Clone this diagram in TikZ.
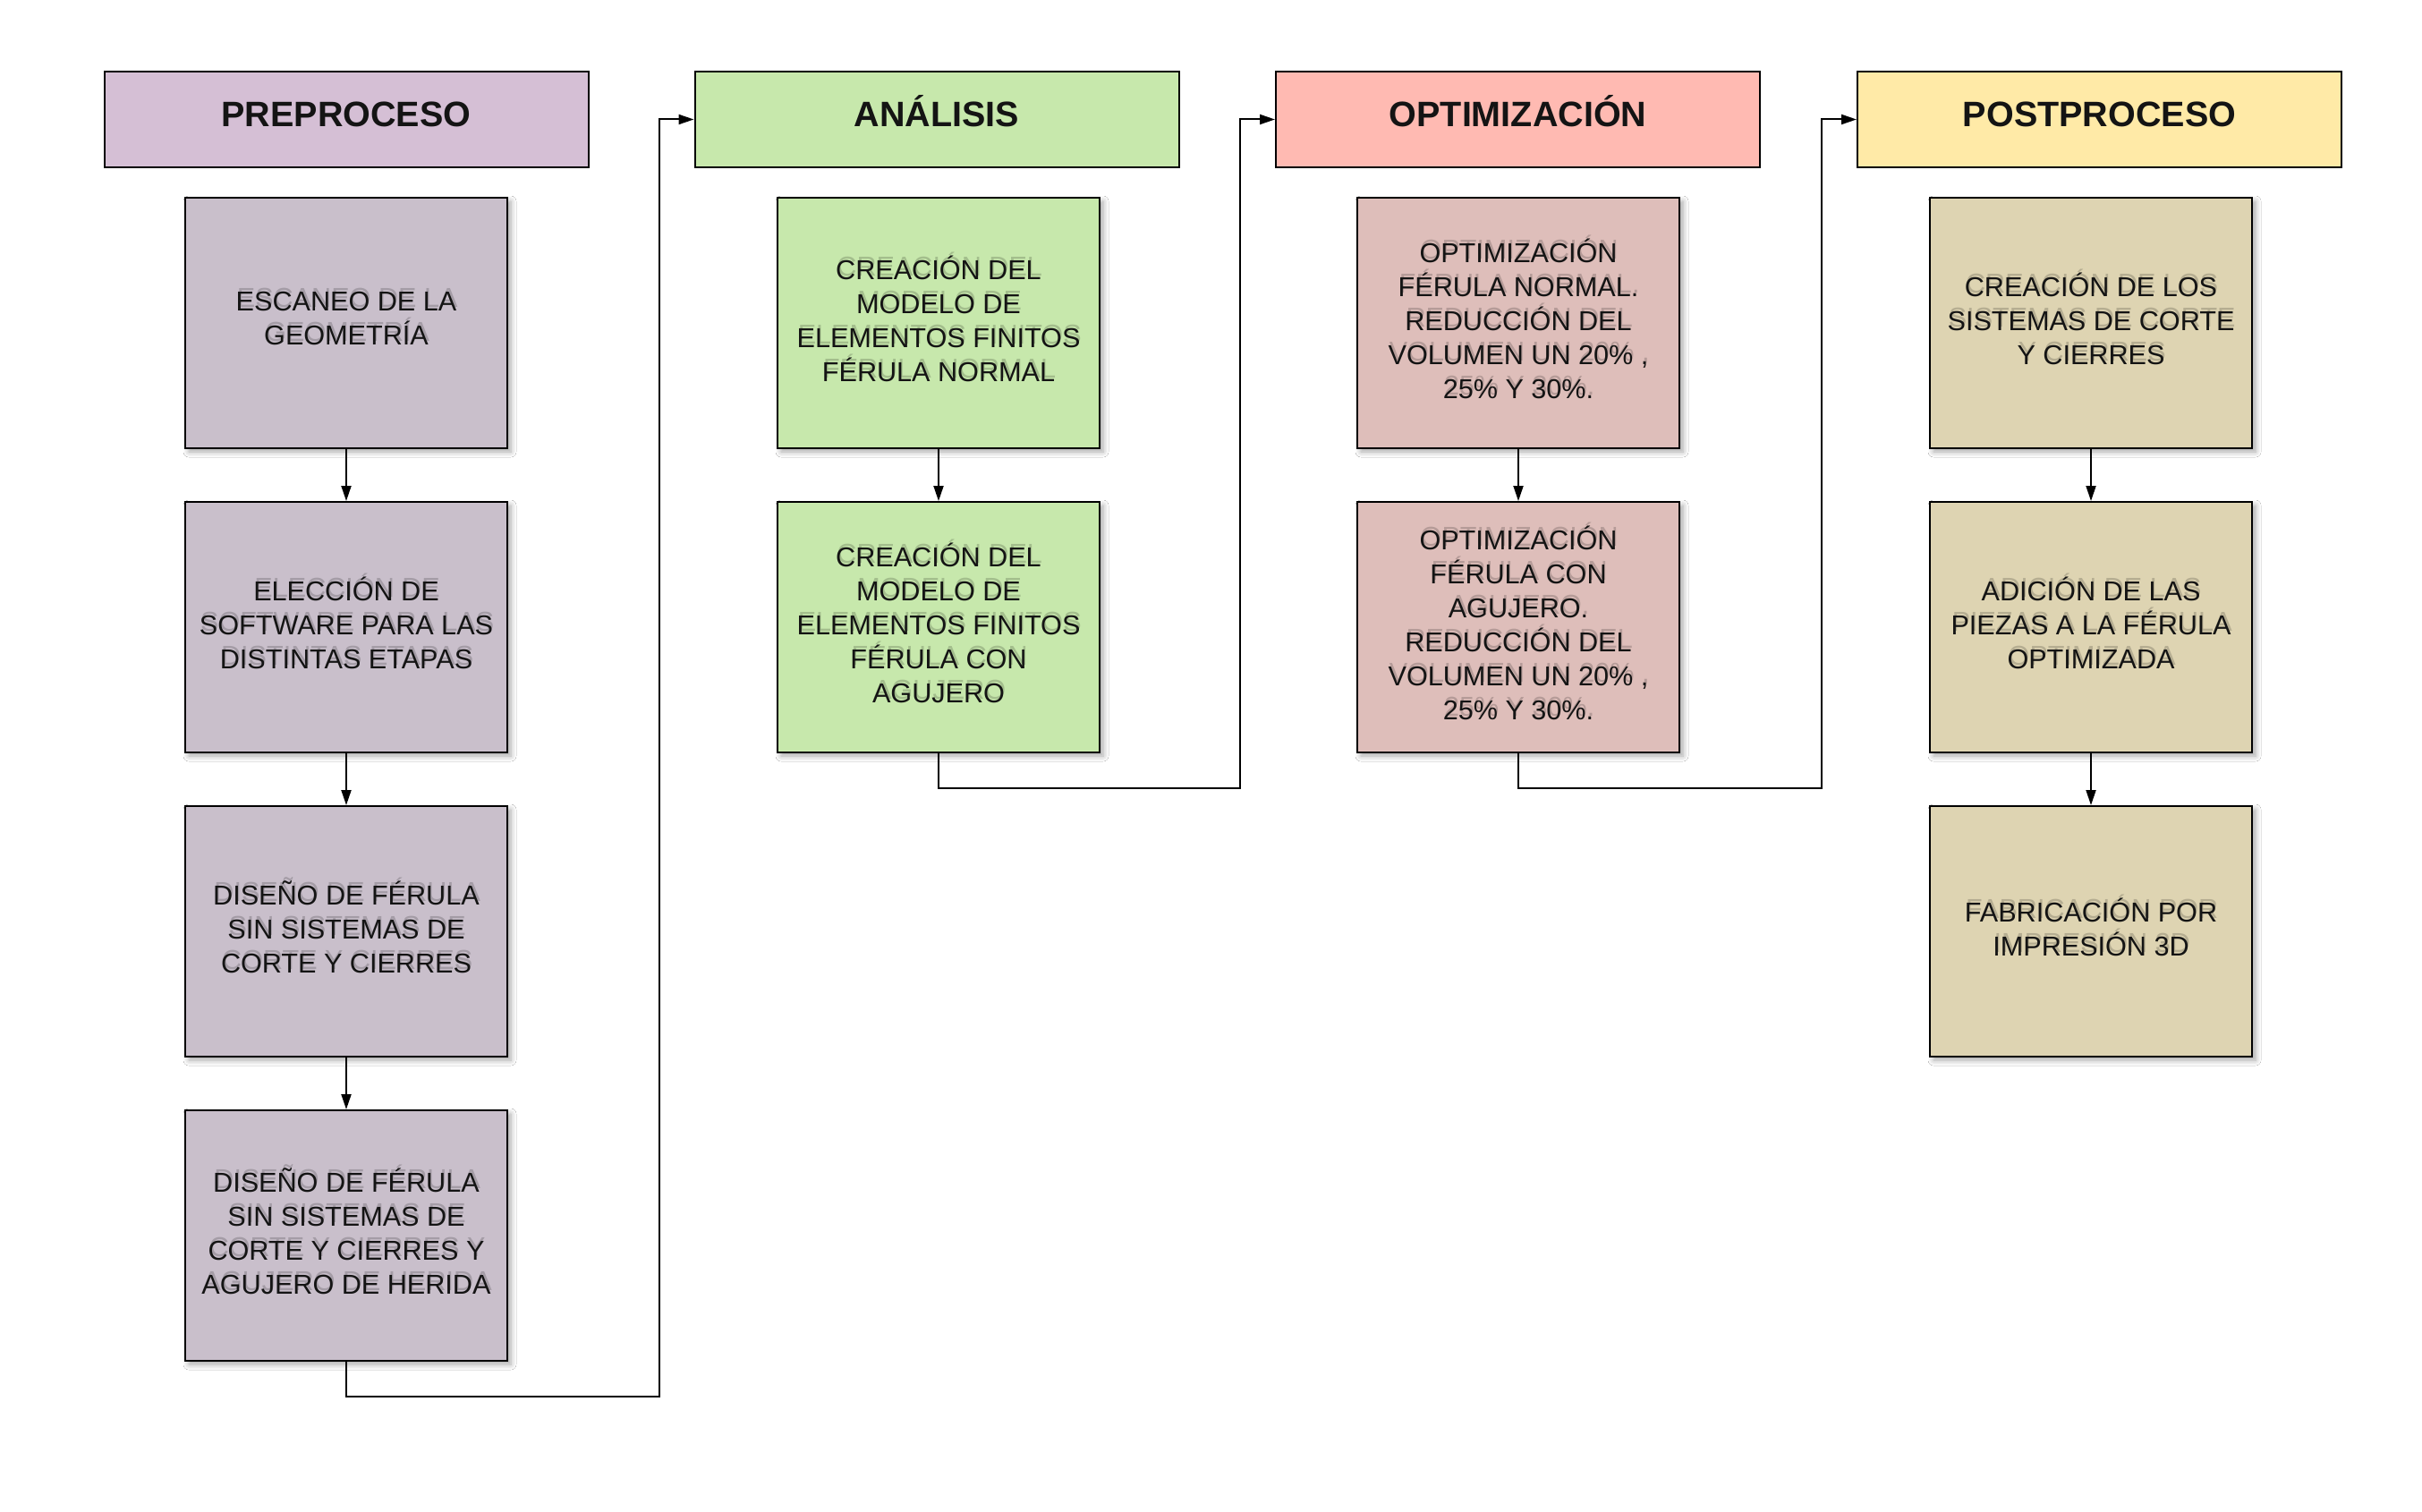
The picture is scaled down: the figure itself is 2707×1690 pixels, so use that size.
\documentclass[tikz,border=0pt]{standalone}
\usepackage{fontspec}
\setmainfont{Liberation Sans}
\usetikzlibrary{shadows.blur,arrows.meta}
\definecolor{prehead}{RGB}{213,191,213}
\definecolor{prebox}{RGB}{201,191,203}
\definecolor{anahead}{RGB}{199,232,172}
\definecolor{anabox}{RGB}{199,232,172}
\definecolor{opthead}{RGB}{255,186,178}
\definecolor{optbox}{RGB}{222,190,186}
\definecolor{posthead}{RGB}{255,234,167}
\definecolor{postbox}{RGB}{222,212,178}
\definecolor{txt}{RGB}{20,20,20}
\tikzset{
  header/.style={draw=black, line width=1pt, minimum width=270.5pt, minimum height=53.5pt,
    inner sep=0pt, text height=14pt, text depth=5.5pt,
    font=\fontsize{19.75pt}{23pt}\selectfont\bfseries, text=txt},
  steptext/.style={inner sep=0pt, align=center, font=\fontsize{15.3pt}{19pt}\selectfont, text=txt, yshift=2.5pt},
  stepglow/.style={steptext, text=black, text opacity=0.18, xshift=0.6pt, yshift=1.9pt},
  stepbox/.style={draw=black, line width=1pt, minimum width=180pt, minimum height=140pt,
    inner sep=0pt,
    blur shadow={shadow xshift=2pt, shadow yshift=-2pt, shadow blur steps=6, shadow opacity=35, shadow blur radius=3pt},
    label={[stepglow]center:{#1}},
    label={[steptext]center:{#1}}},
  arr/.style={draw=black, line width=1pt, -{Triangle[length=8.5pt,width=5.5pt]}},
  lin/.style={draw=black, line width=1pt}
}
\begin{document}
\begin{tikzpicture}[x=0.5pt,y=-0.5pt]
\useasboundingbox (0,0) rectangle (2707,1690);
\fill[white] (0,0) rectangle (2707,1690);
% headers
\node[header, fill=prehead] (h1) at (387,133.5) {PREPROCESO};
\node[header, fill=anahead] (h2) at (1047,133.5) {ANÁLISIS};
\node[header, fill=opthead] (h3) at (1696.5,133.5) {OPTIMIZACIÓN};
\node[header, fill=posthead] (h4) at (2346.5,133.5) {POSTPROCESO};
% preproceso
\node[stepbox={ESCANEO DE LA\\GEOMETRÍA}, fill=prebox] (b11) at (387,361) {};
\node[stepbox={ELECCIÓN DE\\SOFTWARE PARA LAS\\DISTINTAS ETAPAS}, fill=prebox] (b12) at (387,701) {};
\node[stepbox={DISEÑO DE FÉRULA\\SIN SISTEMAS DE\\CORTE Y CIERRES}, fill=prebox] (b13) at (387,1041) {};
\node[stepbox={DISEÑO DE FÉRULA\\SIN SISTEMAS DE\\CORTE Y CIERRES Y\\AGUJERO DE HERIDA}, fill=prebox] (b14) at (387,1381) {};
% analisis
\node[stepbox={CREACIÓN DEL\\MODELO DE\\ELEMENTOS FINITOS\\FÉRULA NORMAL}, fill=anabox] (b21) at (1049,361) {};
\node[stepbox={CREACIÓN DEL\\MODELO DE\\ELEMENTOS FINITOS\\FÉRULA CON\\AGUJERO}, fill=anabox] (b22) at (1049,701) {};
% optimizacion
\node[stepbox={OPTIMIZACIÓN\\FÉRULA NORMAL.\\REDUCCIÓN DEL\\VOLUMEN UN 20\% ,\\25\% Y 30\%.}, fill=optbox] (b31) at (1697,361) {};
\node[stepbox={OPTIMIZACIÓN\\FÉRULA CON\\AGUJERO.\\REDUCCIÓN DEL\\VOLUMEN UN 20\% ,\\25\% Y 30\%.}, fill=optbox] (b32) at (1697,701) {};
% postproceso
\node[stepbox={CREACIÓN DE LOS\\SISTEMAS DE CORTE\\Y CIERRES}, fill=postbox] (b41) at (2337,361) {};
\node[stepbox={ADICIÓN DE LAS\\PIEZAS A LA FÉRULA\\OPTIMIZADA}, fill=postbox] (b42) at (2337,701) {};
\node[stepbox={FABRICACIÓN POR\\IMPRESIÓN 3D}, fill=postbox] (b43) at (2337,1041) {};
% vertical arrows
\draw[arr] (b11) -- (b12);
\draw[arr] (b12) -- (b13);
\draw[arr] (b13) -- (b14);
\draw[arr] (b21) -- (b22);
\draw[arr] (b31) -- (b32);
\draw[arr] (b41) -- (b42);
\draw[arr] (b42) -- (b43);
% column links
\coordinate (k1) at (737,1561);
\coordinate (k2) at (1386,881);
\coordinate (k3) at (2036,881);
\draw[arr] (b14.south) |- (k1) |- (h2.west);
\draw[arr] (b22.south) |- (k2) |- (h3.west);
\draw[arr] (b32.south) |- (k3) |- (h4.west);
\end{tikzpicture}
\end{document}
